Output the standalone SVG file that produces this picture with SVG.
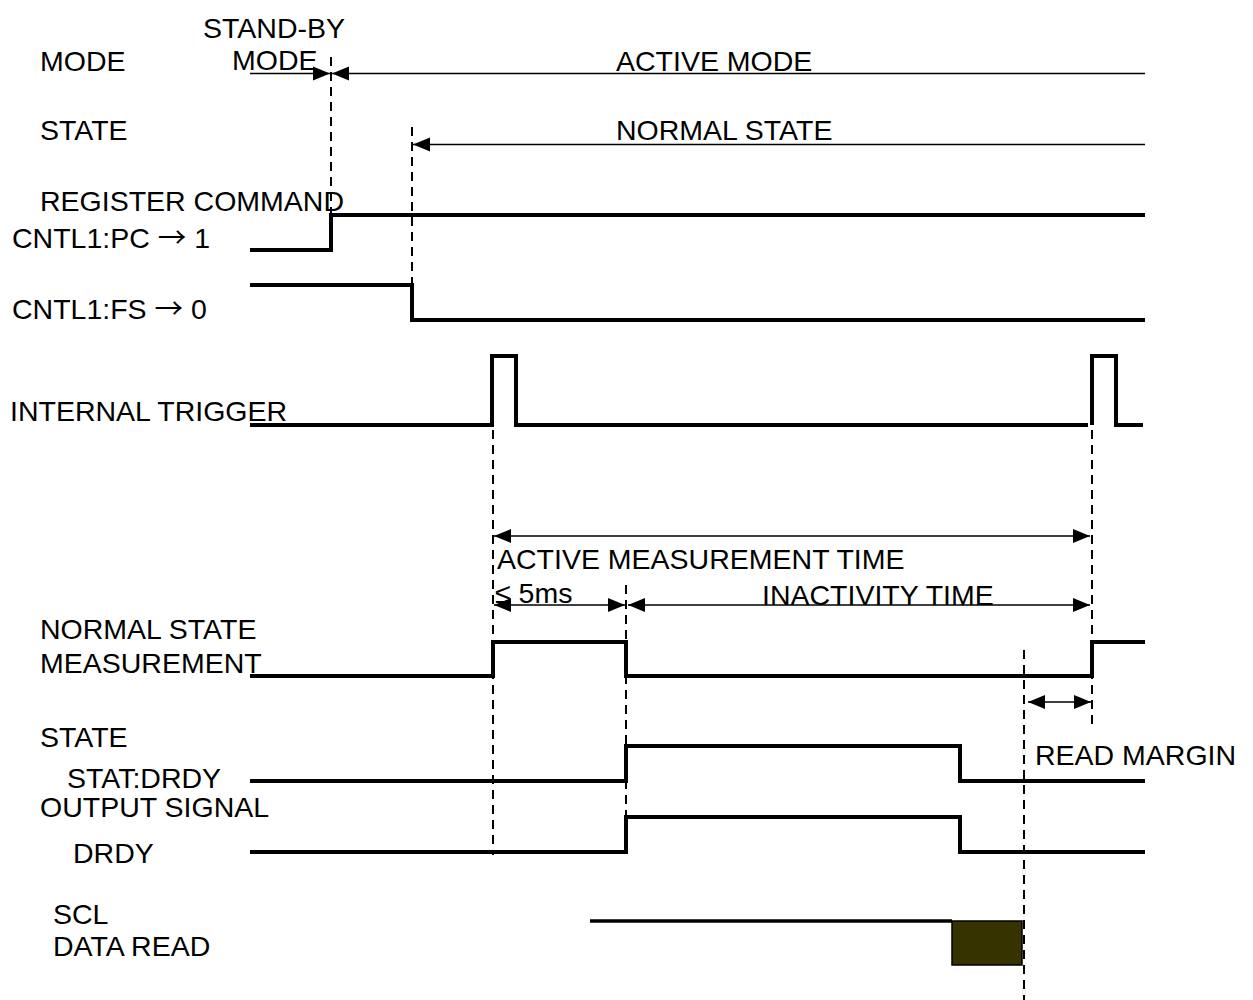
<svg xmlns="http://www.w3.org/2000/svg" width="1253" height="1000" viewBox="0 0 1253 1000">
<style>
text{font-family:"Liberation Sans",Arial,sans-serif;font-size:28.5px;fill:#000}
.arr{font-family:"Noto Sans CJK JP","DejaVu Sans",sans-serif}
.sig{fill:none;stroke:#000;stroke-width:4;stroke-linejoin:miter}
.thin{fill:none;stroke:#000;stroke-width:1.6}
.dash{fill:none;stroke:#000;stroke-width:2;stroke-dasharray:9,6}
</style>
<defs>
<marker id="ah" markerUnits="userSpaceOnUse" markerWidth="18" markerHeight="16" viewBox="0 0 18 16" refX="17" refY="8" orient="auto-start-reverse">
<path d="M0,1 L17,8 L0,15 Z" fill="#000"/>
</marker>
</defs>
<rect width="1253" height="1000" fill="#fff"/>
<g id="labels">
<text x="40" y="71">MODE</text>
<text x="203" y="38">STAND-BY</text>
<text x="232" y="70">MODE</text>
<text x="616" y="71">ACTIVE MODE</text>
<text x="40" y="140">STATE</text>
<text x="616" y="140">NORMAL STATE</text>
<text x="40" y="211">REGISTER COMMAND</text>
<text x="12" y="248">CNTL1:PC <tspan class="arr">→</tspan> 1</text>
<text x="12" y="319">CNTL1:FS <tspan class="arr">→</tspan> 0</text>
<text x="10" y="421">INTERNAL TRIGGER</text>
<text x="497" y="569">ACTIVE MEASUREMENT TIME</text>
<text x="495" y="603">≤ 5ms</text>
<text x="762" y="605">INACTIVITY TIME</text>
<text x="40" y="639">NORMAL STATE</text>
<text x="40" y="673">MEASUREMENT</text>
<text x="40" y="747">STATE</text>
<text x="67" y="788">STAT:DRDY</text>
<text x="40" y="817">OUTPUT SIGNAL</text>
<text x="73" y="863">DRDY</text>
<text x="1035" y="765">READ MARGIN</text>
<text x="53" y="924">SCL</text>
<text x="53" y="956">DATA READ</text>
</g>
<g id="guides">
<line class="dash" x1="331" y1="57" x2="331" y2="215"/>
<line class="dash" x1="412" y1="127" x2="412" y2="318"/>
<line class="dash" x1="493" y1="430" x2="493" y2="855"/>
<line class="dash" x1="1092" y1="430" x2="1092" y2="725"/>
<line class="dash" x1="626" y1="585" x2="626" y2="855"/>
<line class="dash" x1="1024" y1="650" x2="1024" y2="1000"/>
</g>
<g id="connectors">
<line class="thin" x1="250" y1="73.5" x2="330" y2="73.5" marker-end="url(#ah)"/>
<line class="thin" x1="332" y1="73.5" x2="1145" y2="73.5" marker-start="url(#ah)"/>
<line class="thin" x1="413" y1="144.5" x2="1145" y2="144.5" marker-start="url(#ah)"/>
<line class="thin" x1="494" y1="536" x2="1090" y2="536" marker-start="url(#ah)" marker-end="url(#ah)"/>
<line class="thin" x1="494" y1="605" x2="625" y2="605" marker-start="url(#ah)" marker-end="url(#ah)"/>
<line class="thin" x1="628" y1="605" x2="1090" y2="605" marker-start="url(#ah)" marker-end="url(#ah)"/>
<line class="thin" x1="1028" y1="702" x2="1091" y2="702" marker-start="url(#ah)" marker-end="url(#ah)"/>
</g>
<g id="signals">
<polyline id="pc" class="sig" points="250,250 331,250 331,215 1145,215"/>
<polyline id="fs" class="sig" points="250,285 412,285 412,320 1145,320"/>
<polyline id="trig" class="sig" points="250,425 492,425 492,356 516,356 516,425 1088,425"/>
<polyline id="trig2" class="sig" points="1092,425 1092,356 1116,356 1116,425 1143,425"/>
<polyline id="meas" class="sig" points="250,676 493,676 493,642 626,642 626,676 1092,676 1092,642 1145,642"/>
<polyline id="statdrdy" class="sig" points="250,781 626,781 626,746 960,746 960,781 1145,781"/>
<polyline id="drdy" class="sig" points="250,852 626,852 626,817 960,817 960,852 1145,852"/>
<line id="scl" x1="590" y1="921" x2="952" y2="921" stroke="#000" stroke-width="3.5"/>
<rect id="read" x="952" y="921" width="70" height="44" fill="#363300" stroke="#000" stroke-width="1.5"/>
</g>
</svg>
